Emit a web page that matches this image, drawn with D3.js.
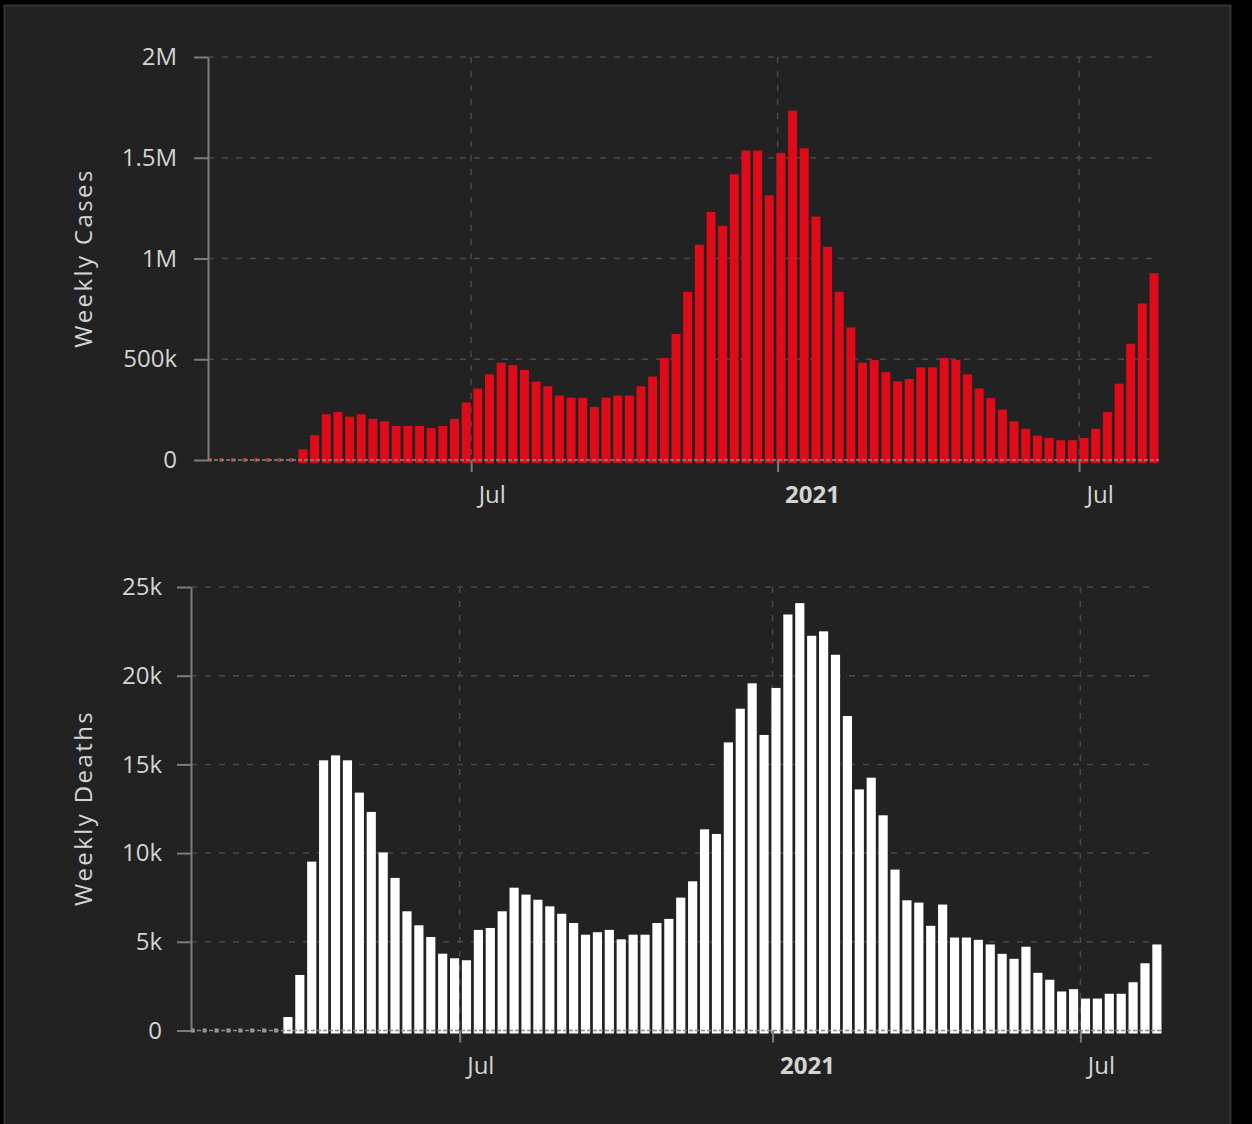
<!DOCTYPE html>
<html>
<head>
<meta charset="utf-8">
<script src="https://cdn.jsdelivr.net/npm/d3@7"></script>
<style>
  body { margin: 0; background: #000; }
  svg { display: block; }
  text { font-family: "Open Sans", sans-serif; }
</style>
</head>
<body>
<div id="chart"></div>
<script>
// Weekly totals, one bar per week (week ending date)
const firstWeek = "2020-01-26";
const lastWeek = "2021-08-15";

// Weekly cases, in thousands
const weeklyCases = [
    0, 0, 0, 0, 0, 0, 0, 0, 53, 123,
    227, 238, 215, 227, 204, 192, 169, 169, 169, 158,
    169, 204, 286, 355, 425, 483, 471, 447, 389, 366,
    320, 309, 309, 263, 309, 320, 320, 366, 414, 506,
    625, 835, 1068, 1231, 1162, 1418, 1536, 1536, 1314, 1524,
    1734, 1547, 1208, 1058, 835, 658, 483, 496, 436, 390,
    402, 460, 460, 506, 496, 425, 355, 307, 250, 192,
    155, 121, 109, 98, 98, 109, 155, 238, 379, 577,
    777, 927
];

// Weekly deaths, in thousands
const weeklyDeaths = [
    0, 0, 0, 0, 0, 0, 0, 0, 0.76, 3.13,
    9.52, 15.23, 15.51, 15.23, 13.41, 12.32, 10.04, 8.60, 6.72, 5.93,
    5.27, 4.33, 4.07, 3.96, 5.67, 5.78, 6.72, 8.05, 7.66, 7.37,
    7.00, 6.58, 6.06, 5.40, 5.54, 5.67, 5.14, 5.40, 5.40, 6.06,
    6.29, 7.49, 8.41, 11.34, 11.08, 16.24, 18.14, 19.57, 16.66, 19.31,
    23.45, 24.09, 22.25, 22.50, 21.18, 17.73, 13.59, 14.25, 12.13, 9.07,
    7.34, 7.21, 5.90, 7.10, 5.24, 5.24, 5.11, 4.85, 4.32, 4.04,
    4.72, 3.25, 2.86, 2.20, 2.33, 1.80, 1.80, 2.07, 2.07, 2.72,
    3.79, 4.85
];

// Y ticks (thousands) and their labels
const caseTicks = [0, 500, 1000, 1500, 2000];
const caseTickLabels = ["0", "500k", "1M", "1.5M", "2M"];
const deathTicks = [0, 5, 10, 15, 20, 25];
const deathTickLabels = ["0", "5k", "10k", "15k", "20k", "25k"];

const weeks = d3.utcDay.range(
    new Date(firstWeek), d3.utcDay.offset(new Date(lastWeek), 1), 7);

const W = 1252, H = 1124;

const svg = d3.select("#chart")
    .append("svg")
    .attr("width", W)
    .attr("height", H);

// dark panel with a thin border
svg.append("rect")
    .attr("x", 4.5)
    .attr("y", 5.5)
    .attr("width", 1226)
    .attr("height", H)
    .attr("fill", "#222222")
    .attr("stroke", "#333333")
    .attr("stroke-width", 2);

const labelColor = "#d4d4d4";
const axisColor = "#7c7c7c";
const gridColor = "#4a4a4a";

function drawChart(opt) {
    const g = svg.append("g");

    const x = d3.scaleUtc()
        .domain([d3.utcDay.offset(weeks[0], -1), d3.utcDay.offset(weeks[weeks.length - 1], 3)])
        .range(opt.xRange);

    const y = d3.scaleLinear()
        .domain([0, opt.ticks[opt.ticks.length - 1]])
        .range(opt.yRange);

    const x0 = opt.xRange[0], x1 = opt.xRange[1];
    const xTicks = x.ticks(d3.utcMonth.every(6));

    // horizontal grid
    g.selectAll(".hgrid")
        .data(opt.ticks.filter(d => d > 0))
        .enter()
        .append("line")
        .attr("x1", x0)
        .attr("x2", x1 - 6)
        .attr("y1", d => y(d))
        .attr("y2", d => y(d))
        .attr("stroke", gridColor)
        .attr("stroke-width", 1.5)
        .attr("stroke-dasharray", "6,8");

    // vertical grid
    g.selectAll(".vgrid")
        .data(xTicks)
        .enter()
        .append("line")
        .attr("x1", d => x(d))
        .attr("x2", d => x(d))
        .attr("y1", y.range()[1])
        .attr("y2", y(0))
        .attr("stroke", gridColor)
        .attr("stroke-width", 1.5)
        .attr("stroke-dasharray", "6,8");

    // bars
    const step = x(weeks[1]) - x(weeks[0]);
    const bw = step * 0.77;
    const rows = weeks.map((d, i) => ({ date: d, value: opt.values[i] }));

    g.selectAll(".bar")
        .data(rows.filter(d => y(0) - y(d.value) >= 1.5))
        .enter()
        .append("rect")
        .attr("class", "bar")
        .attr("x", d => x(d.date) - bw / 2)
        .attr("y", d => y(d.value))
        .attr("width", bw)
        .attr("height", d => y(0) - y(d.value) + 3)
        .attr("fill", opt.color);

    // zero weeks show as small dots on the baseline
    g.selectAll(".dot")
        .data(rows.filter(d => y(0) - y(d.value) < 1.5))
        .enter()
        .append("rect")
        .attr("x", d => x(d.date) - 2)
        .attr("y", y(0) - 2)
        .attr("width", 4)
        .attr("height", 4)
        .attr("fill", opt.dotColor);

    // baseline
    g.append("line")
        .attr("x1", x0)
        .attr("x2", x1)
        .attr("y1", y(0))
        .attr("y2", y(0))
        .attr("stroke", "#8a8a8a")
        .attr("stroke-width", 1.5)
        .attr("stroke-dasharray", "4,2");

    // y axis
    const yAxis = g.append("g")
        .attr("transform", `translate(${x0},0)`)
        .call(d3.axisLeft(y)
            .tickValues(opt.ticks)
            .tickFormat((d, i) => opt.tickLabels[i])
            .tickSize(14)
            .tickSizeOuter(0)
            .tickPadding(opt.tickPadding));
    yAxis.attr("color", axisColor);
    yAxis.select(".domain").attr("stroke-width", 2);
    yAxis.selectAll(".tick line").attr("stroke-width", 2);
    yAxis.selectAll("text")
        .attr("fill", labelColor)
        .style("font-size", "24px");

    // x axis
    const xAxis = g.append("g")
        .attr("transform", `translate(0,${y(0)})`)
        .call(d3.axisBottom(x)
            .tickValues(xTicks)
            .tickSize(12)
            .tickSizeOuter(0)
            .tickFormat(d => d.getUTCMonth() === 0 ? d3.utcFormat("%Y")(d) : d3.utcFormat("%b")(d)));
    xAxis.attr("color", axisColor);
    xAxis.select(".domain").remove();
    xAxis.selectAll(".tick line").attr("stroke-width", 2);
    xAxis.selectAll("text")
        .attr("fill", labelColor)
        .attr("text-anchor", "start")
        .attr("x", 7)
        .attr("y", 43)
        .attr("dy", null)
        .style("font-size", "24px")
        .style("font-weight", d => d.getUTCMonth() === 0 ? 700 : 400);

    // axis title
    g.append("text")
        .attr("transform", `translate(${opt.titleX},${opt.titleY}) rotate(-90)`)
        .attr("text-anchor", "middle")
        .attr("dy", "0.35em")
        .attr("fill", labelColor)
        .style("font-size", "24px")
        .style("letter-spacing", "2.4px")
        .text(opt.title);
}

drawChart({
    values: weeklyCases,
    ticks: caseTicks,
    tickLabels: caseTickLabels,
    color: "#e00b18",
    dotColor: "#9a3a2a",
    xRange: [208, 1159],
    yRange: [460, 57],
    tickPadding: 17,
    title: "Weekly Cases",
    titleX: 84,
    titleY: 258
});

drawChart({
    values: weeklyDeaths,
    ticks: deathTicks,
    tickLabels: deathTickLabels,
    color: "#ffffff",
    dotColor: "#a0a0a0",
    xRange: [191, 1162],
    yRange: [1030.5, 587],
    tickPadding: 15,
    title: "Weekly Deaths",
    titleX: 84,
    titleY: 808
});
</script>
</body>
</html>
